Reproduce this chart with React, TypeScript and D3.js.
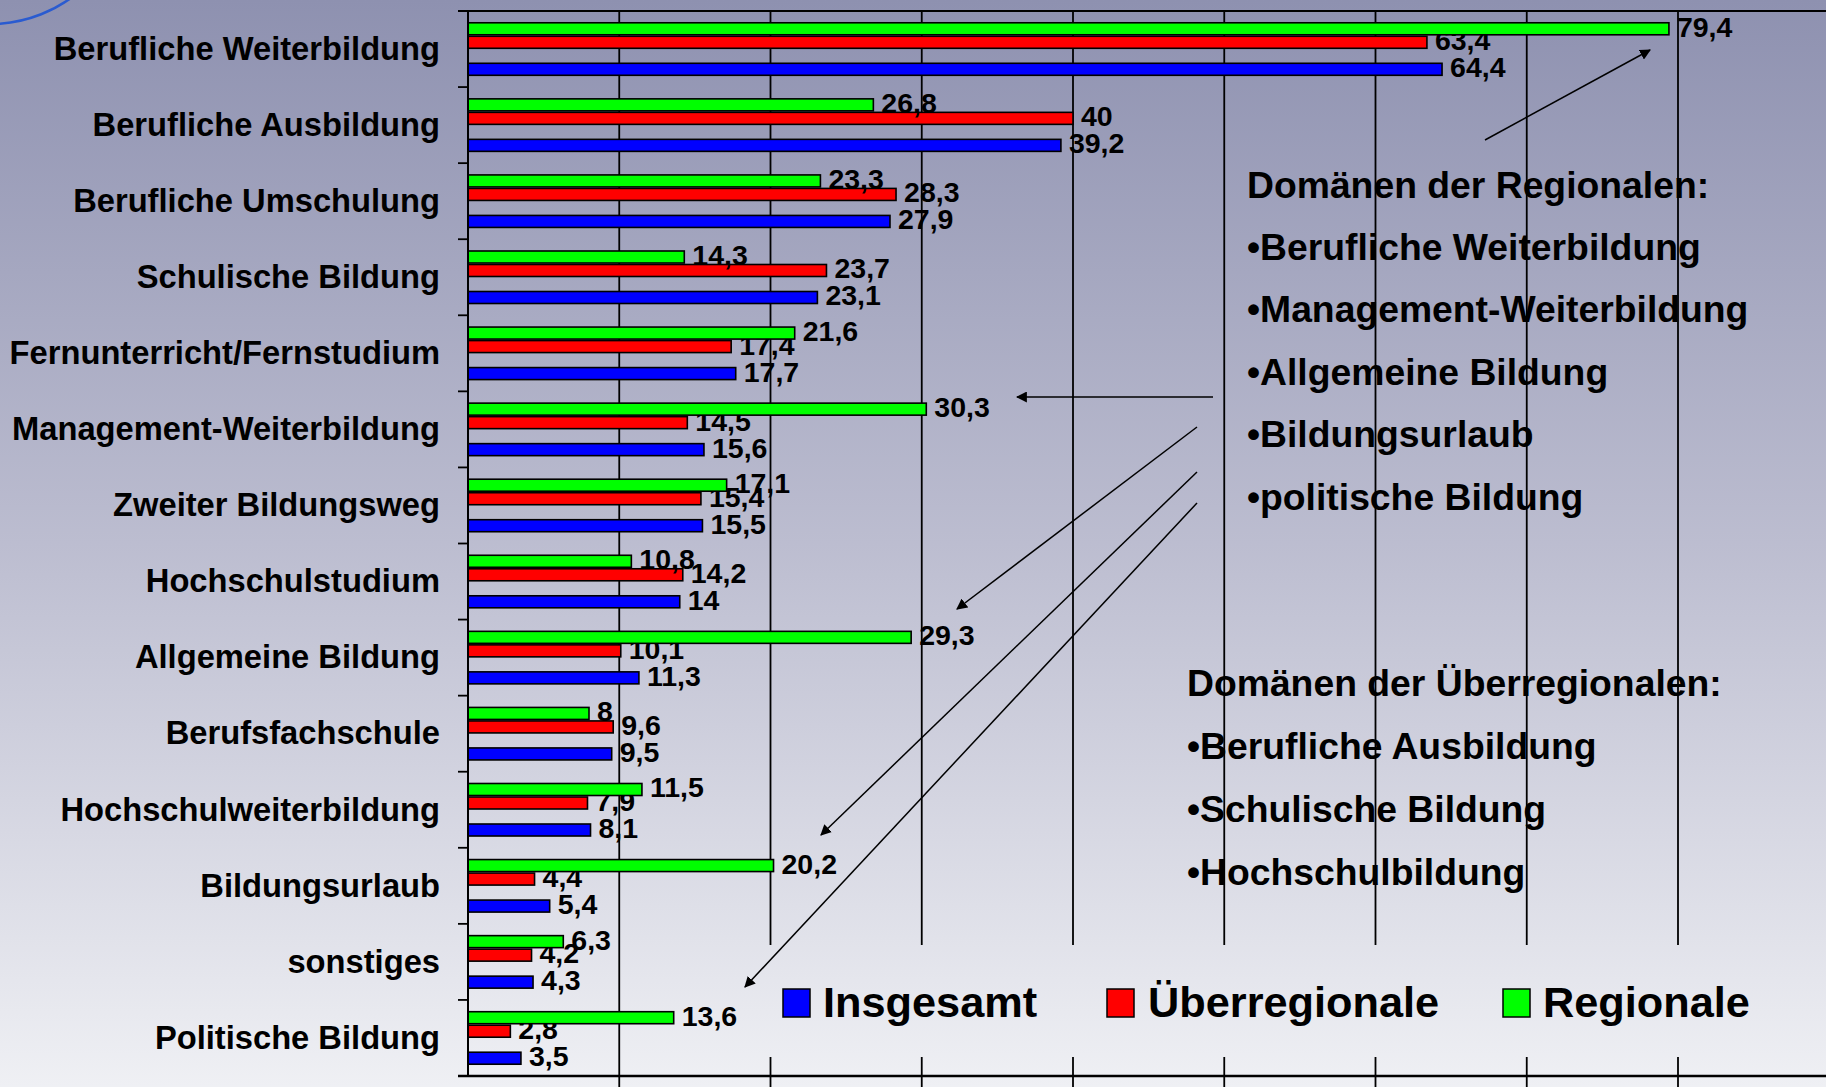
import React from 'react';
import * as d3 from 'd3';

// Werte aus dem Diagramm (in Prozent)
const categories = [
  'Berufliche Weiterbildung',
  'Berufliche Ausbildung',
  'Berufliche Umschulung',
  'Schulische Bildung',
  'Fernunterricht/Fernstudium',
  'Management-Weiterbildung',
  'Zweiter Bildungsweg',
  'Hochschulstudium',
  'Allgemeine Bildung',
  'Berufsfachschule',
  'Hochschulweiterbildung',
  'Bildungsurlaub',
  'sonstiges',
  'Politische Bildung',
];
const insgesamt = [64.4, 39.2, 27.9, 23.1, 17.7, 15.6, 15.5, 14, 11.3, 9.5, 8.1, 5.4, 4.3, 3.5];
const ueberregionale = [63.4, 40, 28.3, 23.7, 17.4, 14.5, 15.4, 14.2, 10.1, 9.6, 7.9, 4.4, 4.2, 2.8];
const regionale = [79.4, 26.8, 23.3, 14.3, 21.6, 30.3, 17.1, 10.8, 29.3, 8, 11.5, 20.2, 6.3, 13.6];

const seriesNames = ['Insgesamt', 'Überregionale', 'Regionale'];
const seriesColors = ['#0000ff', '#ff0000', '#00ff00'];
// slot order inside a category, top to bottom (one empty slot)
const slotOrder = ['Regionale', 'Überregionale', 'leer', 'Insgesamt'];

const regionalTitle = 'Domänen der Regionalen:';
const regionalItems = ['Berufliche Weiterbildung', 'Management-Weiterbildung', 'Allgemeine Bildung', 'Bildungsurlaub', 'politische Bildung'];
const ueberTitle = 'Domänen der Überregionalen:';
const ueberItems = ['Berufliche Ausbildung', 'Schulische Bildung', 'Hochschulbildung'];

const W = 1826;
const H = 1087;
const FONT = '"Liberation Sans", Arial, Helvetica, sans-serif';

const fmt = (v: number) => String(v).replace('.', ',');

export default function App() {
  const x0 = 468;
  const top = 11;
  const bottom = 1076;

  const x = d3.scaleLinear().domain([0, 90]).range([x0, x0 + 90 * 15.125]);
  const y = d3.scaleBand<string>()
    .domain(categories)
    .range([top, bottom])
    .paddingInner(0.29)
    .paddingOuter(0.145);
  const slot = d3.scaleBand<string>().domain(slotOrder).range([0, y.bandwidth()]);

  const step = y.step();
  const boundaries = d3.range(categories.length + 1).map(i => top + i * step);
  const gridTicks = x.ticks(9).filter(t => t > 0);

  const seriesData: Record<string, number[]> = {
    Insgesamt: insgesamt,
    'Überregionale': ueberregionale,
    Regionale: regionale,
  };

  const arrows: [number, number, number, number][] = [
    [1485, 140, 1650, 50],
    [1213, 397, 1017, 397],
    [1197, 427, 957, 609],
    [1197, 472, 821, 835],
    [1197, 503, 745, 987],
  ];

  const legendItems = [
    { name: 'Insgesamt', sx: 783, tx: 823 },
    { name: 'Überregionale', sx: 1107, tx: 1148 },
    { name: 'Regionale', sx: 1503, tx: 1543 },
  ];

  return (
    <div style={{ position: 'absolute', left: 0, top: 0, width: W, height: H, overflow: 'hidden' }}>
      <svg width={W} height={H} style={{ display: 'block' }}>
        <defs>
          <linearGradient id="bg" gradientUnits="userSpaceOnUse" x1="0" y1="0" x2="0" y2={H}>
            <stop offset="0" stopColor="#8e91b0" />
            <stop offset="0.5" stopColor="#bcbdd0" />
            <stop offset="1" stopColor="#eff0f4" />
          </linearGradient>
          <marker id="arrow" viewBox="0 0 10 10" refX="9" refY="5" markerWidth="11" markerHeight="11" markerUnits="userSpaceOnUse" orient="auto">
            <path d="M0,0 L10,5 L0,10 z" fill="#000" />
          </marker>
        </defs>
        <rect x={0} y={0} width={W} height={H} fill="url(#bg)" />

        {/* Kreisbogen oben links */}
        <circle cx={-10} cy={-115} r={139} fill="none" stroke="#2a5bd0" strokeWidth={2.5} />

        {/* Gitterlinien */}
        {gridTicks.map(t => (
          <line key={'g' + t} x1={x(t)} x2={x(t)} y1={top} y2={H} stroke="#000" strokeWidth={1.8} />
        ))}
        <line x1={x0 - 10} x2={W} y1={top} y2={top} stroke="#000" strokeWidth={1.8} />

        {/* Balken */}
        {categories.map((c, i) => (
          <g key={c} transform={`translate(0,${y(c)})`}>
            {seriesNames.map(s => {
              const v = seriesData[s][i];
              const sy = slot(s) as number;
              const bh = slot.bandwidth();
              return (
                <g key={s}>
                  <rect
                    x={x(0)}
                    y={sy + 0.75}
                    width={x(v) - x(0)}
                    height={bh - 1.5}
                    fill={seriesColors[seriesNames.indexOf(s)]}
                    stroke="#000"
                    strokeWidth={1.6}
                  />
                  <text
                    x={x(v) + 8}
                    y={sy + bh / 2}
                    dy="0.28em"
                    fontFamily={FONT}
                    fontWeight="bold"
                    fontSize={28.5}
                    fill="#000"
                  >
                    {fmt(v)}
                  </text>
                </g>
              );
            })}
          </g>
        ))}

        {/* Achsen */}
        <line x1={x0} x2={x0} y1={top} y2={bottom} stroke="#000" strokeWidth={2} />
        {boundaries.map((b, i) => (
          <line key={'t' + i} x1={x0 - 10} x2={x0} y1={b} y2={b} stroke="#000" strokeWidth={1.8} />
        ))}
        {categories.map(c => (
          <text
            key={'l' + c}
            x={440}
            y={(y(c) as number) + y.bandwidth() / 2}
            dy="0.33em"
            textAnchor="end"
            fontFamily={FONT}
            fontWeight="bold"
            fontSize={32.7}
            fill="#000"
          >
            {c}
          </text>
        ))}

        {/* Legende */}
        <rect x={757} y={945} width={W - 757} height={112} fill="url(#bg)" />
        {legendItems.map(l => (
          <g key={l.name}>
            <rect x={l.sx} y={989} width={27} height={28} fill={seriesColors[seriesNames.indexOf(l.name)]} stroke="#000" strokeWidth={1.5} />
            <text x={l.tx} y={1017} fontFamily={FONT} fontWeight="bold" fontSize={43.3} fill="#000">
              {l.name}
            </text>
          </g>
        ))}
        <line x1={x0 - 10} x2={W} y1={bottom} y2={bottom} stroke="#000" strokeWidth={2.5} />

        {/* Textblöcke */}
        <g fontFamily={FONT} fontWeight="bold" fontSize={37.3} fill="#000">
          <text x={1247} y={198}>{regionalTitle}</text>
          {regionalItems.map((t, i) => (
            <text key={t} x={1247} y={260 + i * 62.4}>{'•' + t}</text>
          ))}
          <text x={1187} y={696}>{ueberTitle}</text>
          {ueberItems.map((t, i) => (
            <text key={t} x={1187} y={759 + i * 63}>{'•' + t}</text>
          ))}
        </g>

        {/* Pfeile */}
        {arrows.map((a, i) => (
          <line key={'a' + i} x1={a[0]} y1={a[1]} x2={a[2]} y2={a[3]} stroke="#000" strokeWidth={1.5} markerEnd="url(#arrow)" />
        ))}
      </svg>
    </div>
  );
}
